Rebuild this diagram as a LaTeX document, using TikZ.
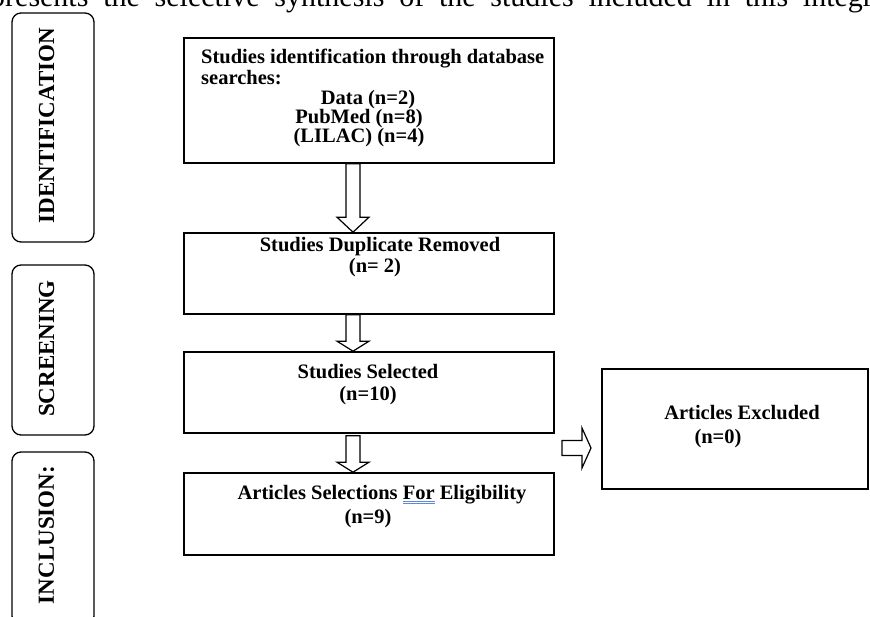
\documentclass[tikz,border=0pt]{standalone}
\usepackage{fontspec}
\setmainfont{Liberation Serif}
\usetikzlibrary{calc}
\definecolor{ulblue}{RGB}{95,135,220}
\newcommand\spelldbl[1]{\setbox0\hbox{#1}\rlap{\color{ulblue}\rule[-2.5pt]{\wd0}{0.8pt}}\rlap{\color{ulblue}\rule[-5pt]{\wd0}{0.8pt}}\box0\relax}
\newcommand\blockdown[4]{%
  \draw[blockarrow] let \p1=(#1.south), \p2=(#2.north) in
   (\x1-23pt,\y1-#4pt) -- (\x1-23pt,\y2+#3pt) -- (\x1-32pt,\y2+#3pt) -- (\x1-16pt,\y2)
   -- (\x1,\y2+#3pt) -- (\x1-9pt,\y2+#3pt) -- (\x1-9pt,\y1-#4pt) -- cycle;}
\begin{document}
\begin{tikzpicture}[x=1pt,y=-1pt,
  flowbox/.style={draw, line width=1.6pt, minimum width=370pt, inner sep=0pt},
  sidebox/.style={draw, line width=1.3pt, rounded corners=9pt, minimum width=82pt, inner sep=0pt},
  sidelabel/.style={rotate=90, inner sep=0pt, font=\fontsize{23}{23}\selectfont\bfseries},
  boxtext/.style={anchor=base, inner sep=0pt, font=\fontsize{20.5}{21}\selectfont\bfseries},
  blockarrow/.style={draw, line width=1.2pt, fill=white, line join=miter}
]
\useasboundingbox (0,0) rectangle (870,617);
\clip (0,0) rectangle (870,617);

% caption (cut off at the top)
\node[anchor=base west, inner sep=0pt, font=\fontsize{30}{30}\selectfont] (cap) at (-10,7)
  {\makebox[896pt][s]{presents the selective synthesis of the studies included in this integra}};

% side boxes
\node[sidebox, minimum height=229pt] (s1) at (53,127.5) {};
\node[sidebox, minimum height=170pt] (s2) at (53,350) {};
\node[sidebox, minimum height=173pt] (s3) at (53,538.5) {};
\node[sidelabel] (l1) at (46.5,125.5) {IDENTIFICATION};
\node[sidelabel] (l2) at (46.5,348.5) {SCREENING};
\node[sidelabel] (l3) at (46.5,535) {INCLUSION:};

% flow boxes
\node[flowbox, minimum height=125pt] (b1) at (369,100.5) {};
\node[flowbox, minimum height=81pt] (b2) at (369,273.5) {};
\node[flowbox, minimum height=81pt] (b3) at (369,392.5) {};
\node[flowbox, minimum height=82pt] (b4) at (369,514) {};
\node[flowbox, minimum width=266pt, minimum height=120pt] (b5) at (735,429) {};

% texts
\node[boxtext, anchor=base west] (t1a) at (201,64) {Studies identification through database};
\node[boxtext, anchor=base west] (t1b) at (201,85) {searches:};
\node[boxtext] (t1c) at (368,105) {Data (n=2)};
\node[boxtext] (t1d) at (359,124) {PubMed (n=8)};
\node[boxtext] (t1e) at (359,143) {(LILAC) (n=4)};
\node[boxtext] (t2a) at (380,252) {Studies Duplicate Removed};
\node[boxtext] (t2b) at (375,273) {(n= 2)};
\node[boxtext] (t3a) at (368,378) {Studies Selected};
\node[boxtext] (t3b) at (368,400) {(n=10)};
\node[boxtext] (t4a) at (382,499) {Articles Selections \spelldbl{For} Eligibility};
\node[boxtext] (t4b) at (368,523) {(n=9)};
\node[boxtext] (t5a) at (742,420) {Articles Excluded};
\node[boxtext] (t5b) at (718,443) {(n=0)};

% block arrows
\blockdown{b1}{b2}{15}{0}
\blockdown{b2}{b3}{10}{0}
\blockdown{b3}{b4}{10}{2}
\coordinate (rtail) at (562,448);
\coordinate (rtip) at (591,448);
\draw[blockarrow] (rtail) -- ($(rtail)+(0,-7.5)$) -- ($(rtip)+(-9,-7.5)$) -- ($(rtip)+(-9,-20)$)
  -- (rtip) -- ($(rtip)+(-9,20)$) -- ($(rtip)+(-9,7.5)$) -- ($(rtail)+(0,7.5)$) -- cycle;
\end{tikzpicture}
\end{document}
